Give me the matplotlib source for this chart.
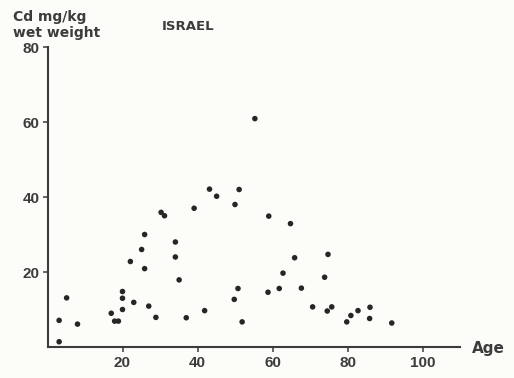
import matplotlib
matplotlib.use("Agg")
import matplotlib.pyplot as plt

# cadmium in kidney cortex vs. age, Israel
age = [3.1, 3.1, 5.1, 8.0, 17.0, 17.9, 18.9, 20.0, 20.0, 20.0,
       23.0, 22.1, 25.1, 25.9, 25.9, 27.0, 28.9, 30.3, 31.2, 34.1,
       34.1, 35.1, 37.0, 39.1, 41.9, 43.2, 45.1, 50.0, 49.8, 51.1,
       50.8, 51.9, 55.3, 59.0, 64.8, 65.9, 62.8, 58.8, 61.8, 67.7,
       74.8, 73.9, 70.7, 74.6, 75.8, 79.8, 80.9, 82.8, 86.0, 85.9,
       91.8]
cd = [1.4, 7.1, 13.1, 6.1, 9.0, 6.9, 6.9, 10.0, 13.0, 14.8,
      11.9, 22.8, 26.0, 30.0, 20.9, 10.9, 7.9, 35.9, 35.0, 28.0,
      24.0, 17.9, 7.8, 37.0, 9.7, 42.1, 40.2, 38.0, 12.7, 42.0,
      15.6, 6.7, 60.9, 34.9, 32.9, 23.8, 19.7, 14.6, 15.6, 15.7,
      24.7, 18.6, 10.7, 9.6, 10.7, 6.7, 8.4, 9.7, 10.6, 7.6,
      6.4]
xticks = [20, 40, 60, 80, 100]
yticks = [20, 40, 60, 80]

INK = "#3c3c3c"
BG = "#fcfcf8"

fig = plt.figure(figsize=(5.14, 3.78), dpi=100, facecolor=BG)
ax = fig.add_axes([47.5 / 514, 31 / 378, 412.5 / 514, 300 / 378])
ax.set_facecolor(BG)

ax.scatter(age, cd, s=16, color="#262626", edgecolors="none", clip_on=False, zorder=3)

ax.set_xlim(0, 110)
ax.set_ylim(0, 80)
ax.set_xticks(xticks)
ax.set_yticks(yticks)
for s in ("top", "right"):
    ax.spines[s].set_visible(False)
for s in ("left", "bottom"):
    ax.spines[s].set_color(INK)
    ax.spines[s].set_linewidth(1.5)
ax.tick_params(colors=INK, width=1.1, length=3.5, labelsize=11, pad=2)
ax.tick_params(axis="x", pad=3)
for lab in ax.get_xticklabels() + ax.get_yticklabels():
    lab.set_fontfamily("Liberation Sans")
    lab.set_fontweight("bold")
    lab.set_color(INK)

txt = dict(family="DejaVu Sans", weight="bold", color=INK, va="center")
fig.text(13 / 514, 1 - 17 / 378, "Cd mg/kg", fontsize=10, **txt)
fig.text(13 / 514, 1 - 33 / 378, "wet weight", fontsize=10, **txt)
fig.text(162 / 514, 1 - 27 / 378, "ISRAEL", fontsize=9.5, **txt)
fig.text(472 / 514, 1 - 349 / 378, "Age", fontsize=11, **txt)

fig.savefig("out.png", dpi=100, facecolor=BG)
